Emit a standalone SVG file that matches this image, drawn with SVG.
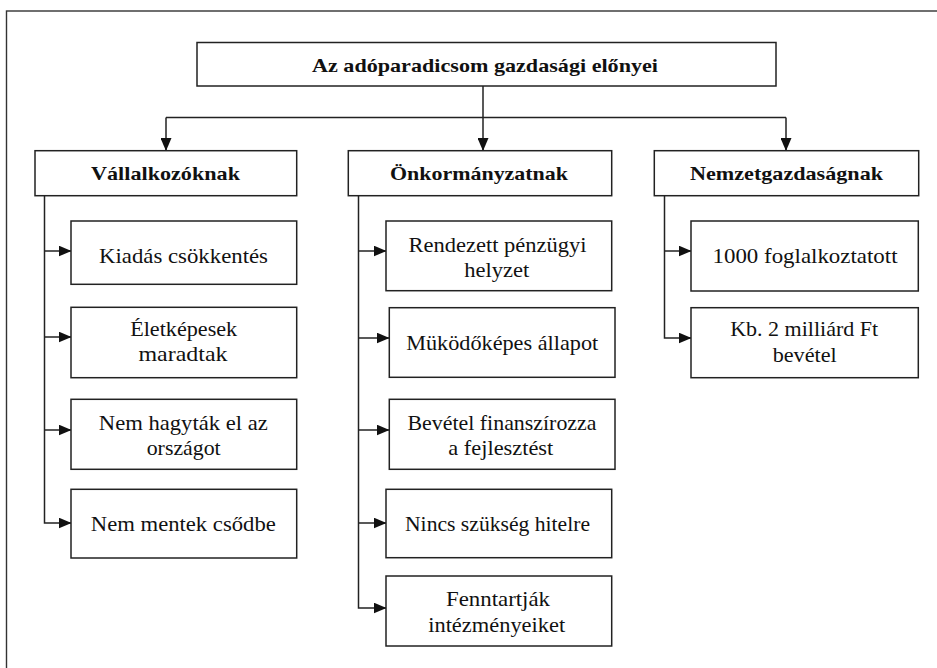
<svg xmlns="http://www.w3.org/2000/svg" width="937" height="668" viewBox="0 0 937 668">
<style>
.box{fill:#fff;stroke:#222;stroke-width:1.5}
.ln{fill:none;stroke:#222;stroke-width:1.5}
.b{font-weight:bold;font-size:19px}
</style>
<defs>
<marker id="ar" markerUnits="userSpaceOnUse" markerWidth="13" markerHeight="11" refX="12.5" refY="5.5" orient="auto">
<path d="M0,0 L13,5.5 L0,11 z" fill="#111"/>
</marker>
</defs>
<rect x="6.5" y="11" width="1000" height="1000" fill="none" stroke="#333" stroke-width="1.4"/>
<g id="connectors">
<path class="ln" d="M483,86 V150.5" marker-end="url(#ar)"/>
<path class="ln" d="M166,117.5 H786"/>
<path class="ln" d="M166,117.5 V150.5" marker-end="url(#ar)"/>
<path class="ln" d="M786,117.5 V150.5" marker-end="url(#ar)"/>
<path class="ln" d="M44.5,196 V523 H71" marker-end="url(#ar)"/>
<path class="ln" d="M44.5,251 H71" marker-end="url(#ar)"/>
<path class="ln" d="M44.5,337 H71" marker-end="url(#ar)"/>
<path class="ln" d="M44.5,430 H71" marker-end="url(#ar)"/>
<path class="ln" d="M358.5,196 V608 H386" marker-end="url(#ar)"/>
<path class="ln" d="M358.5,251 H386" marker-end="url(#ar)"/>
<path class="ln" d="M358.5,338 H389" marker-end="url(#ar)"/>
<path class="ln" d="M358.5,430 H389" marker-end="url(#ar)"/>
<path class="ln" d="M358.5,523 H386" marker-end="url(#ar)"/>
<path class="ln" d="M664.5,196 V338 H691" marker-end="url(#ar)"/>
<path class="ln" d="M664.5,251 H691" marker-end="url(#ar)"/>
</g>
<g font-family="Liberation Serif, Times New Roman, serif" font-size="21" fill="#111" text-anchor="middle">
<g id="title">
<rect class="box" x="197" y="42.5" width="579" height="43.5"/>
<text class="b" x="485" y="72" textLength="346" lengthAdjust="spacingAndGlyphs">Az adóparadicsom gazdasági előnyei</text>
</g>
<g id="vallalkozoknak">
<rect class="box" x="35" y="150.7" width="261.7" height="45"/>
<text class="b" x="165.5" y="180" textLength="149" lengthAdjust="spacingAndGlyphs">Vállalkozóknak</text>
</g>
<g id="onkormanyzatnak">
<rect class="box" x="348.3" y="150.7" width="263.4" height="45"/>
<text class="b" x="479" y="180" textLength="178" lengthAdjust="spacingAndGlyphs">Önkormányzatnak</text>
</g>
<g id="nemzetgazdasagnak">
<rect class="box" x="654.3" y="150.7" width="264.4" height="45"/>
<text class="b" x="786.5" y="180" textLength="193" lengthAdjust="spacingAndGlyphs">Nemzetgazdaságnak</text>
</g>
<g id="kiadas">
<rect class="box" x="71" y="221" width="225.7" height="63.3"/>
<text x="183.5" y="263.3" textLength="169" lengthAdjust="spacingAndGlyphs">Kiadás csökkentés</text>
</g>
<g id="eletkepesek">
<rect class="box" x="71" y="307.3" width="225.7" height="70.4"/>
<text x="183.7" y="336" textLength="107" lengthAdjust="spacingAndGlyphs">Életképesek</text>
<text x="183" y="361" textLength="89" lengthAdjust="spacingAndGlyphs">maradtak</text>
</g>
<g id="nem-hagytak">
<rect class="box" x="71" y="399.3" width="225.7" height="70"/>
<text x="183.3" y="430" textLength="169" lengthAdjust="spacingAndGlyphs">Nem hagyták el az</text>
<text x="183.7" y="455" textLength="74" lengthAdjust="spacingAndGlyphs">országot</text>
</g>
<g id="nem-mentek">
<rect class="box" x="71" y="489.3" width="225.7" height="68.7"/>
<text x="183.3" y="530.7" textLength="185" lengthAdjust="spacingAndGlyphs">Nem mentek csődbe</text>
</g>
<g id="rendezett">
<rect class="box" x="386" y="221" width="225.7" height="69.7"/>
<text x="497.5" y="252" textLength="178" lengthAdjust="spacingAndGlyphs">Rendezett pénzügyi</text>
<text x="496.7" y="277" textLength="65" lengthAdjust="spacingAndGlyphs">helyzet</text>
</g>
<g id="mukodokepes">
<rect class="box" x="389.3" y="307.7" width="225.7" height="69.6"/>
<text x="502.2" y="350" textLength="192" lengthAdjust="spacingAndGlyphs">Müködőképes állapot</text>
</g>
<g id="bevetel">
<rect class="box" x="389.3" y="399.3" width="225.7" height="70"/>
<text x="502" y="430" textLength="189" lengthAdjust="spacingAndGlyphs">Bevétel finanszírozza</text>
<text x="500.8" y="455" textLength="105" lengthAdjust="spacingAndGlyphs">a fejlesztést</text>
</g>
<g id="nincs">
<rect class="box" x="386" y="489.3" width="225.7" height="68.4"/>
<text x="497.5" y="530.7" textLength="185" lengthAdjust="spacingAndGlyphs">Nincs szükség hitelre</text>
</g>
<g id="fenntartjak">
<rect class="box" x="386" y="576" width="225.7" height="70"/>
<text x="498" y="605.7" textLength="104" lengthAdjust="spacingAndGlyphs">Fenntartják</text>
<text x="496.7" y="631.7" textLength="137" lengthAdjust="spacingAndGlyphs">intézményeiket</text>
</g>
<g id="foglalkoztatott">
<rect class="box" x="691" y="221" width="227.3" height="70"/>
<text x="805" y="263.3" textLength="185" lengthAdjust="spacingAndGlyphs">1000 foglalkoztatott</text>
</g>
<g id="milliard">
<rect class="box" x="691" y="307.7" width="227.3" height="70"/>
<text x="804.2" y="336" textLength="148" lengthAdjust="spacingAndGlyphs">Kb. 2 milliárd Ft</text>
<text x="804.7" y="361.7" textLength="64" lengthAdjust="spacingAndGlyphs">bevétel</text>
</g>
</g>
</svg>
